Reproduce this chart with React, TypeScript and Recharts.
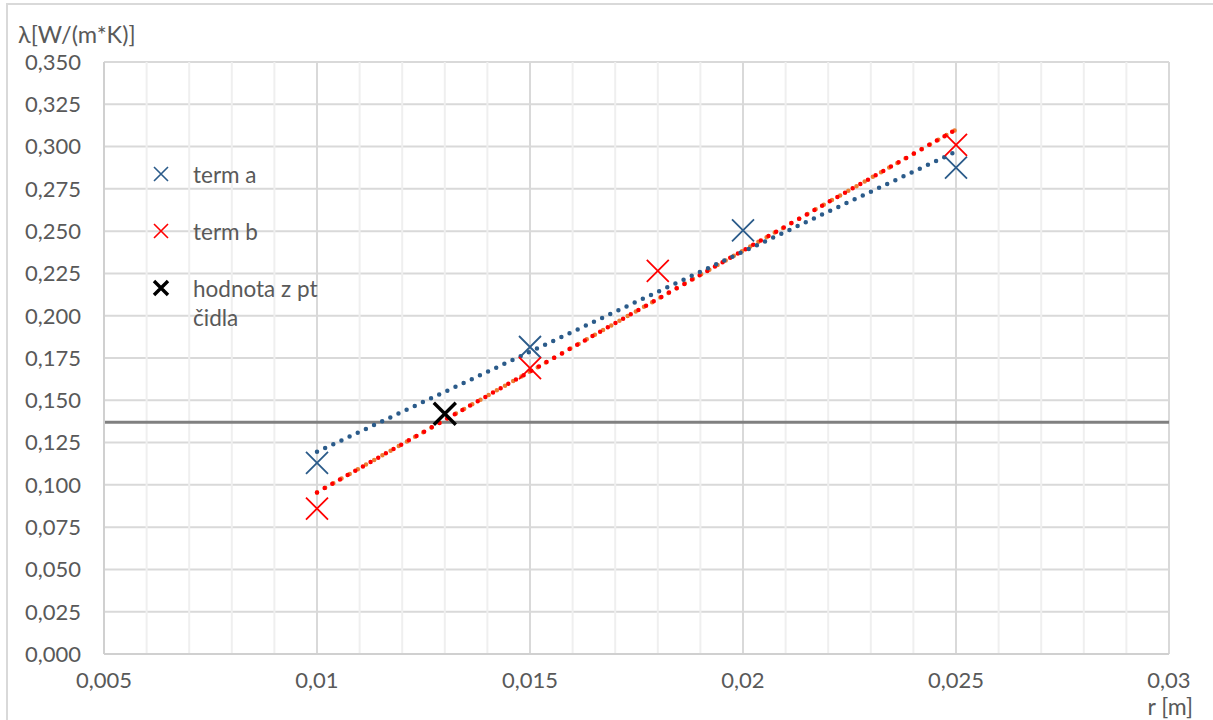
import { ScatterChart, Scatter, XAxis, YAxis, CartesianGrid, ReferenceLine, Legend, Label } from 'recharts';

// naměřené hodnoty
const rTermA = [0.01, 0.015, 0.02, 0.025];
const lambdaTermA = [0.113, 0.1815, 0.2505, 0.2875];
const rTermB = [0.01, 0.015, 0.018, 0.025];
const lambdaTermB = [0.086, 0.169, 0.2265, 0.301];
const rSensor = [0.013];
const lambdaSensor = [0.142];

// spojnice trendu (koncové body)
const rTrendA = [0.01, 0.025];
const lambdaTrendA = [0.1195, 0.297];
const rTrendB = [0.01, 0.025];
const lambdaTrendB = [0.0955, 0.31];

const sensorLevel = 0.137;

const xMajorTicks = [0.005, 0.01, 0.015, 0.02, 0.025, 0.03];
const xMinorTicks = [
    0.006, 0.007, 0.008, 0.009, 0.011, 0.012, 0.013, 0.014, 0.016, 0.017,
    0.018, 0.019, 0.021, 0.022, 0.023, 0.024, 0.026, 0.027, 0.028, 0.029,
];
const yTicks = [0, 0.025, 0.05, 0.075, 0.1, 0.125, 0.15, 0.175, 0.2, 0.225, 0.25, 0.275, 0.3, 0.325, 0.35];

const legendItems = [
    { label: 'term a', color: '#2b5b8a', width: 1.6 },
    { label: 'term b', color: '#ff0000', width: 1.6 },
    { label: 'hodnota z pt čidla', color: '#000000', width: 3.4 },
];

const BLUE = '#2b5b8a';
const RED = '#ff0000';
const TEXT = '#595959';
const FONT = 'Lato, "Open Sans", sans-serif';

const toPoints = (xs: number[], ys: number[]) => xs.map((r, i) => ({ r, l: ys[i] }));

const cross = (color: string, half: number, width: number) => (props: any) => {
    const { cx, cy } = props;
    if (cx == null || cy == null) return <g />;
    return (
        <path
            d={`M${cx - half},${cy - half}L${cx + half},${cy + half}M${cx - half},${cy + half}L${cx + half},${cy - half}`}
            stroke={color}
            strokeWidth={width}
            fill="none"
        />
    );
};

const noDot = () => <g />;

function LegendBox() {
    return (
        <div style={{ fontFamily: FONT, fontSize: 22.5, color: TEXT, width: 210 }}>
            {legendItems.map((item, i) => (
                <div key={i} style={{ display: 'flex', alignItems: 'flex-start', height: 57 }}>
                    <svg width={43} height={28} style={{ flexShrink: 0 }}>
                        <path d="M4,7L18,21M4,21L18,7" stroke={item.color} strokeWidth={item.width} />
                    </svg>
                    <span style={{ lineHeight: '29px', width: 150 }}>{item.label}</span>
                </div>
            ))}
        </div>
    );
}

const fmtY = (v: number) => v.toFixed(3).replace('.', ',');
const fmtX = (v: number) => String(v).replace('.', ',');

export default function App() {
    return (
        <div style={{ position: 'absolute', left: 0, top: 0, width: 1213, height: 720, background: '#fff' }}>
            <div
                style={{
                    position: 'absolute', left: 6, top: 3, width: 1220, height: 730,
                    borderTop: '2px solid #d9d9d9', borderLeft: '2px solid #d9d9d9',
                }}
            />
            <div style={{ position: 'absolute', left: 0, top: 0 }}>
                <ScatterChart
                    width={1213}
                    height={720}
                    margin={{ top: 62, right: 44, bottom: 0, left: 20 }}
                    style={{ fontFamily: FONT }}
                >
                    <CartesianGrid stroke="#d9d9d9" strokeWidth={2} />
                    {/* vedlejší mřížka po 0,001 */}
                    {xMinorTicks.map((v) => (
                        <ReferenceLine key={v} x={v} stroke="#efefef" strokeWidth={2} />
                    ))}
                    <XAxis
                        type="number"
                        dataKey="r"
                        domain={[0.005, 0.03]}
                        ticks={xMajorTicks}
                        interval={0}
                        tickFormatter={fmtX}
                        tickLine={false}
                        tickSize={0}
                        tickMargin={18}
                        height={66}
                        axisLine={{ stroke: '#d0d0d0', strokeWidth: 2 }}
                        tick={{ fill: TEXT, fontSize: 22, fontFamily: FONT }}
                    >
                        <Label
                            content={(p: any) => (
                                <text
                                    x={p.viewBox.x + p.viewBox.width + 24}
                                    y={p.viewBox.y + 61}
                                    textAnchor="end"
                                    fill={TEXT}
                                    fontSize={23}
                                    fontFamily={FONT}
                                >
                                    r [m]
                                </text>
                            )}
                        />
                    </XAxis>
                    <YAxis
                        type="number"
                        dataKey="l"
                        domain={[0, 0.35]}
                        ticks={yTicks}
                        interval={0}
                        tickFormatter={fmtY}
                        tickLine={false}
                        tickSize={0}
                        tickMargin={23}
                        width={84}
                        axisLine={{ stroke: '#d0d0d0', strokeWidth: 2 }}
                        tick={{ fill: TEXT, fontSize: 22, fontFamily: FONT }}
                    >
                        <Label
                            content={(p: any) => (
                                <text
                                    x={p.viewBox.x - 2}
                                    y={p.viewBox.y - 19}
                                    textAnchor="start"
                                    fill={TEXT}
                                    fontSize={23.5}
                                    fontFamily={FONT}
                                >
                                    λ[W/(m*K)]
                                </text>
                            )}
                        />
                    </YAxis>
                    <ReferenceLine y={sensorLevel} stroke="#808080" strokeWidth={3} />
                    <Scatter
                        name="trend b orange"
                        data={toPoints(rTrendB, lambdaTrendB)}
                        line={{ stroke: '#ed7d31', strokeWidth: 4.5, strokeDasharray: '0 9.4', strokeLinecap: 'round' }}
                        shape={noDot}
                        legendType="none"
                        isAnimationActive={false}
                    />
                    <Scatter
                        name="trend b"
                        data={toPoints(rTrendB, lambdaTrendB)}
                        line={{ stroke: RED, strokeWidth: 4.5, strokeDasharray: '0 8.8', strokeLinecap: 'round' }}
                        shape={noDot}
                        legendType="none"
                        isAnimationActive={false}
                    />
                    <Scatter
                        name="trend a"
                        data={toPoints(rTrendA, lambdaTrendA)}
                        line={{ stroke: BLUE, strokeWidth: 4.5, strokeDasharray: '0 9', strokeLinecap: 'round' }}
                        shape={noDot}
                        legendType="none"
                        isAnimationActive={false}
                    />
                    <Scatter
                        name="term a"
                        data={toPoints(rTermA, lambdaTermA)}
                        shape={cross(BLUE, 11, 1.8)}
                        isAnimationActive={false}
                    />
                    <Scatter
                        name="term b"
                        data={toPoints(rTermB, lambdaTermB)}
                        shape={cross(RED, 11, 1.8)}
                        isAnimationActive={false}
                    />
                    <Scatter
                        name="hodnota z pt čidla"
                        data={toPoints(rSensor, lambdaSensor)}
                        shape={cross('#000000', 11, 3.4)}
                        isAnimationActive={false}
                    />
                    <Legend
                        layout="vertical"
                        align="center"
                        verticalAlign="middle"
                        content={() => <LegendBox />}
                        wrapperStyle={{ left: 150, top: 160, width: 210, height: 180 }}
                    />
                </ScatterChart>
            </div>
        </div>
    );
}
